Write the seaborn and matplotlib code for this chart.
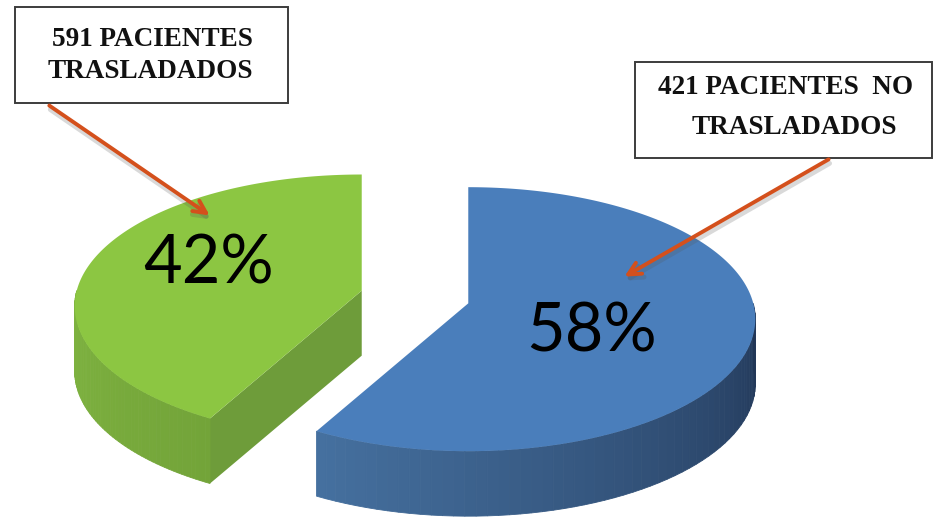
import numpy as np
import matplotlib.pyplot as plt
import seaborn as sns
from matplotlib.patches import Polygon, Rectangle
from matplotlib.colors import to_rgb

# slice data (green first, counterclockwise from 12 o'clock)
pct = [42, 58]
pct_labels = ["42%", "58%"]
box_lines = [["591 PACIENTES", "TRASLADADOS"], ["421 PACIENTES  NO", "TRASLADADOS"]]
top_colors = ["#8cc642", "#4a7ebb"]
wall_colors = [("#80b541", "#73a439"), ("#45709f", "#213656")]
face_colors = ["#6e9c3a", "#2b4670"]

sns.set_style("white")

# pseudo-3d layout (pixels, y down)
cx, cy = 415, 297
rx, ry = 285, 132
depth = 65
explode = 55
start = 90.0
persp = 0.12

fig = plt.figure(figsize=(9.37, 5.18), dpi=100)
ax = fig.add_axes([0, 0, 1, 1])
ax.set_xlim(0, 937)
ax.set_ylim(518, 0)
ax.axis("off")


def proj(x0, y0, t, z=0.0):
    s = 1 - persp * np.sin(t)
    return x0 + s * rx * np.cos(t), y0 - s * ry * np.sin(t) + z


def mix(c1, c2, f):
    a, b = np.array(to_rgb(c1)), np.array(to_rgb(c2))
    return tuple(a + (b - a) * f)


angles = start + np.cumsum([0] + [p / sum(pct) * 360 for p in pct])
for i in range(len(pct)):
    a0, a1 = angles[i], angles[i + 1]
    mid = np.radians((a0 + a1) / 2)
    x0 = cx + explode * np.cos(mid)
    y0 = cy - explode * np.sin(mid) * ry / rx

    # radial side faces
    for a, vis in [(a1, np.cos(np.radians(a1)) < -1e-6), (a0, np.cos(np.radians(a0)) > 1e-6)]:
        if vis:
            px, py = proj(x0, y0, np.radians(a))
            ax.add_patch(Polygon([(x0, y0), (px, py), (px, py + depth), (x0, y0 + depth)],
                                 closed=True, facecolor=face_colors[i], edgecolor="none"))

    # outer wall, front half only, shaded in strips
    lo, hi = max(a0, 180), min(a1, 360)
    if hi > lo:
        ts = np.radians(np.linspace(lo, hi, 60))
        for k in range(len(ts) - 1):
            p1 = proj(x0, y0, ts[k])
            p2 = proj(x0, y0, ts[k + 1])
            col = mix(wall_colors[i][0], wall_colors[i][1], k / (len(ts) - 2))
            ax.add_patch(Polygon([p1, p2, (p2[0], p2[1] + depth), (p1[0], p1[1] + depth)],
                                 closed=True, facecolor=col, edgecolor=col, lw=0.6))

    # top surface
    ts = np.radians(np.linspace(a0, a1, 200))
    xs, ys = proj(x0, y0, ts)
    pts = [(x0, y0)] + list(zip(xs, ys))
    ax.add_patch(Polygon(pts, closed=True, facecolor=top_colors[i], edgecolor="none"))

# percentage labels
pct_pos = [(208, 265), (592, 332)]
for lab, (x, y) in zip(pct_labels, pct_pos):
    ax.text(x, y, lab, fontsize=48, family="Lato", ha="center", va="center", color="black")

# callout boxes
boxes = [(15, 7, 273, 96), (635, 62, 297, 96)]
line_pos = [[(152, 40), (150, 71)], [(786, 88), (794, 128)]]
for (bx, by, bw, bh), lines, pos in zip(boxes, box_lines, line_pos):
    ax.add_patch(Rectangle((bx, by), bw, bh, facecolor="white", edgecolor="#3c3c3c", lw=1.4))
    for txt, (x, y) in zip(lines, pos):
        ax.text(x, y, txt, fontsize=19.5, family="Liberation Serif", fontweight="bold",
                ha="center", va="center", color="#111111")

# arrows
arrows = [((47, 104), (212, 217)), ((831, 158), (622, 278))]
for (sx, sy), (ex, ey) in arrows:
    ax.annotate("", xy=(ex + 1, ey + 4), xytext=(sx + 1, sy + 4),
                arrowprops=dict(arrowstyle="->,head_length=0.9,head_width=0.45",
                                color="#555555", alpha=0.22, lw=3.5))
    ax.annotate("", xy=(ex, ey), xytext=(sx, sy),
                arrowprops=dict(arrowstyle="->,head_length=0.9,head_width=0.45",
                                color="#d4501c", lw=2.8))

fig.savefig("out.png", dpi=100)
